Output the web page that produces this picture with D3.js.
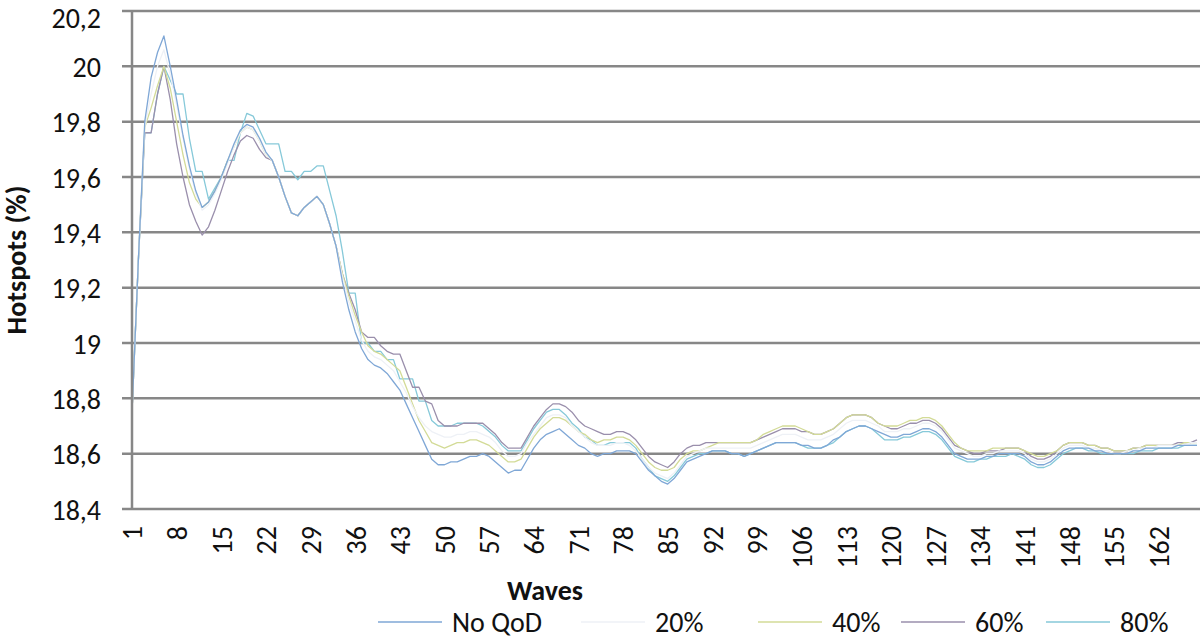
<!DOCTYPE html>
<html>
<head>
<meta charset="utf-8">
<script src="https://cdn.jsdelivr.net/npm/d3@7"></script>
<style>
  html, body { margin: 0; padding: 0; background: #fff; }
  svg { display: block; font-family: Carlito, Calibri, Lato, sans-serif; }
</style>
</head>
<body>
<svg id="chart" width="1200" height="640"></svg>
<script>
// ---------- data ----------
const categories = d3.range(1, 169); // waves 1..168
const xTickLabels = [1, 8, 15, 22, 29, 36, 43, 50, 57, 64, 71, 78, 85, 92, 99, 106, 113, 120, 127, 134, 141, 148, 155, 162];
const yTicks = [18.4, 18.6, 18.8, 19.0, 19.2, 19.4, 19.6, 19.8, 20.0, 20.2];
const seriesNames = ["No QoD", "20%", "40%", "60%", "80%"];

const noQoD = [
  18.75, 19.30, 19.80, 19.96, 20.05, 20.11, 20.00, 19.88, 19.75, 19.64,
  19.55, 19.49, 19.51, 19.55, 19.60, 19.66, 19.72, 19.77, 19.79, 19.78,
  19.74, 19.69, 19.66, 19.60, 19.53, 19.47, 19.46, 19.49, 19.51, 19.53,
  19.50, 19.43, 19.35, 19.22, 19.12, 19.04, 18.98, 18.94, 18.92, 18.91,
  18.89, 18.86, 18.83, 18.78, 18.73, 18.68, 18.63, 18.58, 18.56, 18.56,
  18.57, 18.57, 18.58, 18.59, 18.59, 18.60, 18.59, 18.57, 18.55, 18.53,
  18.54, 18.54, 18.58, 18.62, 18.65, 18.67, 18.68, 18.69, 18.67, 18.65,
  18.63, 18.62, 18.60, 18.59, 18.60, 18.60, 18.61, 18.61, 18.61, 18.60,
  18.57, 18.54, 18.52, 18.50, 18.49, 18.51, 18.54, 18.57, 18.58, 18.59,
  18.60, 18.61, 18.61, 18.61, 18.60, 18.60, 18.59, 18.60, 18.61, 18.62,
  18.63, 18.64, 18.64, 18.64, 18.64, 18.63, 18.63, 18.62, 18.62, 18.63,
  18.65, 18.66, 18.68, 18.69, 18.70, 18.70, 18.69, 18.68, 18.67, 18.66,
  18.66, 18.67, 18.67, 18.68, 18.69, 18.69, 18.68, 18.66, 18.63, 18.60,
  18.59, 18.58, 18.58, 18.58, 18.59, 18.59, 18.60, 18.60, 18.60, 18.60,
  18.59, 18.57, 18.56, 18.56, 18.57, 18.59, 18.61, 18.62, 18.62, 18.62,
  18.62, 18.61, 18.61, 18.60, 18.60, 18.60, 18.60, 18.61, 18.61, 18.62,
  18.62, 18.62, 18.62, 18.62, 18.63, 18.63, 18.63, 18.63
];

const qod20 = [
  18.75, 19.30, 19.78, 19.90, 20.00, 20.06, 19.97, 19.86, 19.74, 19.63,
  19.54, 19.48, 19.50, 19.54, 19.59, 19.65, 19.71, 19.76, 19.78, 19.77,
  19.73, 19.68, 19.66, 19.60, 19.53, 19.47, 19.46, 19.49, 19.51, 19.53,
  19.50, 19.43, 19.35, 19.24, 19.15, 19.08, 19.01, 18.97, 18.95, 18.94,
  18.92, 18.90, 18.86, 18.82, 18.77, 18.73, 18.70, 18.68, 18.67, 18.66,
  18.66, 18.67, 18.67, 18.68, 18.68, 18.67, 18.66, 18.64, 18.61, 18.59,
  18.59, 18.60, 18.64, 18.67, 18.70, 18.73, 18.74, 18.74, 18.73, 18.70,
  18.68, 18.66, 18.64, 18.63, 18.63, 18.63, 18.64, 18.64, 18.63, 18.61,
  18.58, 18.55, 18.53, 18.52, 18.51, 18.53, 18.56, 18.59, 18.60, 18.61,
  18.62, 18.62, 18.62, 18.62, 18.62, 18.62, 18.62, 18.62, 18.63, 18.64,
  18.65, 18.66, 18.67, 18.67, 18.67, 18.66, 18.65, 18.65, 18.65, 18.66,
  18.67, 18.69, 18.71, 18.72, 18.72, 18.72, 18.71, 18.70, 18.68, 18.68,
  18.68, 18.69, 18.69, 18.70, 18.71, 18.71, 18.70, 18.68, 18.65, 18.62,
  18.61, 18.60, 18.59, 18.59, 18.60, 18.60, 18.61, 18.61, 18.61, 18.61,
  18.60, 18.58, 18.57, 18.57, 18.58, 18.60, 18.62, 18.63, 18.63, 18.63,
  18.62, 18.62, 18.61, 18.61, 18.60, 18.60, 18.61, 18.61, 18.62, 18.62,
  18.62, 18.63, 18.63, 18.63, 18.63, 18.63, 18.64, 18.64
];

const qod40 = [
  18.75, 19.30, 19.78, 19.85, 19.93, 20.00, 19.92, 19.80, 19.68, 19.58,
  19.52, 19.49, 19.51, 19.55, 19.60, 19.66, 19.71, 19.76, 19.78, 19.77,
  19.73, 19.68, 19.66, 19.60, 19.53, 19.47, 19.46, 19.49, 19.51, 19.53,
  19.50, 19.43, 19.35, 19.25, 19.17, 19.10, 19.04, 18.99, 18.97, 18.96,
  18.94, 18.92, 18.90, 18.84, 18.78, 18.72, 18.68, 18.64, 18.63, 18.62,
  18.63, 18.64, 18.64, 18.65, 18.65, 18.64, 18.63, 18.61, 18.59, 18.57,
  18.57, 18.58, 18.62, 18.66, 18.69, 18.71, 18.73, 18.73, 18.72, 18.70,
  18.68, 18.67, 18.65, 18.64, 18.65, 18.65, 18.66, 18.66, 18.65, 18.63,
  18.60, 18.57, 18.55, 18.54, 18.54, 18.55, 18.58, 18.60, 18.61, 18.61,
  18.62, 18.63, 18.64, 18.64, 18.64, 18.64, 18.64, 18.64, 18.65, 18.67,
  18.68, 18.69, 18.70, 18.70, 18.70, 18.69, 18.68, 18.67, 18.67, 18.68,
  18.69, 18.71, 18.73, 18.74, 18.74, 18.74, 18.73, 18.71, 18.70, 18.70,
  18.70, 18.71, 18.72, 18.72, 18.73, 18.73, 18.72, 18.70, 18.67, 18.64,
  18.62, 18.61, 18.61, 18.61, 18.61, 18.62, 18.62, 18.62, 18.62, 18.62,
  18.61, 18.60, 18.59, 18.59, 18.60, 18.61, 18.63, 18.64, 18.64, 18.64,
  18.63, 18.63, 18.62, 18.62, 18.61, 18.61, 18.61, 18.62, 18.62, 18.63,
  18.63, 18.63, 18.63, 18.63, 18.63, 18.64, 18.64, 18.64
];

const qod60 = [
  18.75, 19.30, 19.76, 19.76, 19.90, 20.00, 19.88, 19.72, 19.60, 19.50,
  19.44, 19.39, 19.42, 19.48, 19.55, 19.62, 19.68, 19.73, 19.75, 19.74,
  19.70, 19.67, 19.66, 19.60, 19.53, 19.47, 19.46, 19.49, 19.51, 19.53,
  19.50, 19.43, 19.35, 19.25, 19.18, 19.12, 19.04, 19.02, 19.02, 18.99,
  18.97, 18.96, 18.96, 18.90, 18.84, 18.84, 18.79, 18.78, 18.72, 18.70,
  18.70, 18.70, 18.71, 18.71, 18.71, 18.71, 18.69, 18.67, 18.64, 18.62,
  18.62, 18.62, 18.66, 18.70, 18.73, 18.76, 18.78, 18.78, 18.77, 18.75,
  18.72, 18.70, 18.69, 18.68, 18.67, 18.67, 18.68, 18.68, 18.67, 18.65,
  18.62, 18.59, 18.57, 18.56, 18.55, 18.57, 18.60, 18.62, 18.63, 18.63,
  18.64, 18.64, 18.64, 18.64, 18.64, 18.64, 18.64, 18.64, 18.65, 18.66,
  18.67, 18.68, 18.69, 18.69, 18.69, 18.68, 18.68, 18.67, 18.67, 18.68,
  18.69, 18.71, 18.73, 18.74, 18.74, 18.74, 18.73, 18.71, 18.70, 18.69,
  18.69, 18.70, 18.71, 18.71, 18.72, 18.72, 18.71, 18.69, 18.66, 18.63,
  18.62, 18.61, 18.60, 18.60, 18.61, 18.61, 18.61, 18.62, 18.62, 18.62,
  18.61, 18.59, 18.58, 18.58, 18.59, 18.61, 18.63, 18.64, 18.64, 18.64,
  18.63, 18.63, 18.62, 18.62, 18.61, 18.61, 18.61, 18.62, 18.62, 18.63,
  18.63, 18.63, 18.63, 18.63, 18.64, 18.64, 18.64, 18.65
];

const qod80 = [
  18.75, 19.30, 19.76, 19.76, 19.90, 20.00, 19.95, 19.90, 19.90, 19.74,
  19.62, 19.62, 19.52, 19.56, 19.60, 19.66, 19.66, 19.76, 19.83, 19.82,
  19.77, 19.72, 19.72, 19.72, 19.62, 19.62, 19.59, 19.62, 19.62, 19.64,
  19.64, 19.55, 19.46, 19.33, 19.18, 19.18, 19.00, 19.00, 18.97, 18.97,
  18.94, 18.94, 18.87, 18.87, 18.87, 18.79, 18.79, 18.72, 18.70, 18.70,
  18.70, 18.71, 18.71, 18.71, 18.71, 18.70, 18.68, 18.66, 18.63, 18.61,
  18.61, 18.61, 18.65, 18.69, 18.72, 18.75, 18.76, 18.76, 18.74, 18.71,
  18.69, 18.66, 18.65, 18.63, 18.63, 18.64, 18.64, 18.64, 18.64, 18.62,
  18.58, 18.55, 18.52, 18.51, 18.50, 18.52, 18.55, 18.58, 18.59, 18.60,
  18.60, 18.61, 18.61, 18.61, 18.60, 18.60, 18.59, 18.60, 18.61, 18.62,
  18.63, 18.64, 18.64, 18.64, 18.64, 18.63, 18.62, 18.62, 18.62, 18.63,
  18.64, 18.66, 18.68, 18.69, 18.70, 18.70, 18.69, 18.67, 18.65, 18.65,
  18.65, 18.66, 18.66, 18.67, 18.68, 18.68, 18.67, 18.65, 18.62, 18.59,
  18.58, 18.57, 18.57, 18.58, 18.58, 18.59, 18.59, 18.59, 18.60, 18.59,
  18.58, 18.56, 18.55, 18.55, 18.56, 18.58, 18.60, 18.61, 18.62, 18.62,
  18.61, 18.61, 18.60, 18.60, 18.60, 18.60, 18.60, 18.60, 18.61, 18.61,
  18.61, 18.62, 18.62, 18.62, 18.62, 18.63, 18.63, 18.63
];

const seriesValues = [noQoD, qod20, qod40, qod60, qod80];
const seriesColors = ["#7fa7d6", "#eef1f6", "#d3db97", "#9a8fac", "#86c9d9"];

// ---------- layout ----------
const svg = d3.select("#chart");
const plotLeft = 132, plotRight = 1197, plotTop = 11, plotBottom = 509;
const gridRight = 1200, tickLen = 10;
const fontSize = 28;

const x = d3.scalePoint().domain(categories).range([plotLeft, plotRight]);
const y = d3.scaleLinear().domain([18.4, 20.2]).range([plotBottom, plotTop]);
const fmt = v => d3.format(".1f")(v).replace(/\.0$/, "").replace(".", ",");

// gridlines
svg.append("g").selectAll("line").data(yTicks).join("line")
  .attr("x1", plotLeft - tickLen).attr("x2", gridRight)
  .attr("y1", d => y(d)).attr("y2", d => y(d))
  .attr("stroke", "#878787").attr("stroke-width", 2.5);

// lines
const line = d3.line().x((d, i) => x(categories[i])).y(d => y(d));
svg.append("g").selectAll("path").data(seriesValues.map((v, i) => ({v, i})).reverse()).join("path")
  .attr("d", d => line(d.v))
  .attr("fill", "none")
  .attr("stroke", d => seriesColors[d.i])
  .attr("stroke-width", 1.3)
  .attr("stroke-linejoin", "round");

// y axis
const yAxis = svg.append("g").attr("transform", `translate(${plotLeft},0)`)
  .call(d3.axisLeft(y).tickValues(yTicks).tickFormat(fmt).tickSize(0).tickPadding(plotLeft - 101));
yAxis.select(".domain").attr("stroke", "#878787").attr("stroke-width", 2.5)
  .attr("d", `M0,${plotTop}V${plotBottom}`);
yAxis.selectAll("text").attr("font-size", fontSize).attr("fill", "#111")
  .attr("font-family", "Carlito, Calibri, Lato, sans-serif")
  .attr("dy", d => d === 20.2 ? "0.6em" : "0.36em");

// x axis labels
const xAxis = svg.append("g").attr("transform", `translate(0,${plotBottom})`)
  .call(d3.axisBottom(x).tickValues(xTickLabels).tickSize(0));
xAxis.select(".domain").remove();
xAxis.selectAll("text")
  .attr("font-size", fontSize).attr("fill", "#111")
  .attr("font-family", "Carlito, Calibri, Lato, sans-serif")
  .attr("transform", "rotate(-90)")
  .attr("text-anchor", "end")
  .attr("x", -17).attr("y", 0).attr("dy", "0.35em");

// axis titles
svg.append("text")
  .attr("transform", "translate(26,260) rotate(-90)")
  .attr("text-anchor", "middle")
  .attr("font-size", fontSize).attr("font-weight", "bold").attr("fill", "#111")
  .text("Hotspots (%)");
svg.append("text")
  .attr("x", 545).attr("y", 600)
  .attr("text-anchor", "middle")
  .attr("font-size", fontSize).attr("font-weight", "bold").attr("fill", "#111")
  .text("Waves");

// legend (text start positions match the reference layout)
const legendTextX = [452, 655, 832, 975, 1120];
const legY = 622, lineLen = 64, lineGap = 10;
const legend = svg.append("g");
seriesNames.forEach((name, i) => {
  const tx = legendTextX[i];
  legend.append("line")
    .attr("x1", tx - lineGap - lineLen).attr("x2", tx - lineGap)
    .attr("y1", legY).attr("y2", legY)
    .attr("stroke", seriesColors[i]).attr("stroke-width", 1.5);
  legend.append("text")
    .attr("x", tx).attr("y", legY).attr("dy", "0.35em")
    .attr("font-size", fontSize).attr("fill", "#111")
    .text(name);
});
</script>
</body>
</html>
